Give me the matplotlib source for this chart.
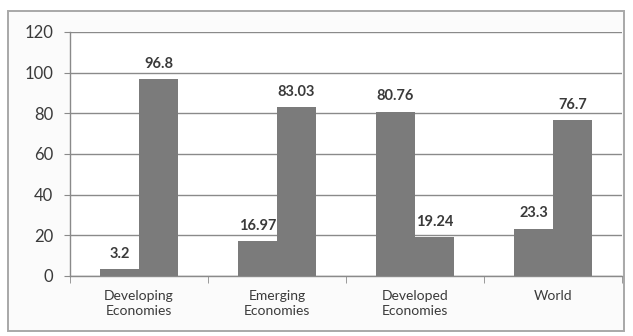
import numpy as np
import matplotlib.pyplot as plt
from matplotlib.patches import Rectangle

plt.rcParams["font.family"] = ["Lato", "DejaVu Sans"]

# ── Data ──────────────────────────────────────────────────────────────────────
categories = ["Developing\nEconomies", "Emerging\nEconomies",
              "Developed\nEconomies", "World"]
series_a = [3.2, 16.97, 80.76, 23.3]
series_b = [96.8, 83.03, 19.24, 76.7]
y_ticks = [0, 20, 40, 60, 80, 100, 120]

BAR_COLOR = "#7b7b7b"
GRID_COLOR = "#8a8a8a"
TEXT_COLOR = "#3a3a3a"

fig = plt.figure(figsize=(6.33, 3.36), dpi=100)
fig.patch.set_facecolor("white")

# chart frame
fig.patches.append(Rectangle((8 / 633, 5 / 336), 616 / 633, 320 / 336,
                             transform=fig.transFigure, facecolor="#fbfbfb",
                             edgecolor="#a8a8a8", linewidth=1.4, zorder=-1))

ax = fig.add_axes([70 / 633, 60 / 336, 552 / 633, 244 / 336])
ax.set_zorder(2)
ax.set_facecolor("white")

x = np.arange(len(categories))
w = 0.283
bars_a = ax.bar(x - w / 2, series_a, width=w, color=BAR_COLOR, zorder=3)
bars_b = ax.bar(x + w / 2, series_b, width=w, color=BAR_COLOR, zorder=3)

for bars, vals in ((bars_a, series_a), (bars_b, series_b)):
    for bar, v in zip(bars, vals):
        ax.annotate(f"{v:g}", (bar.get_x() + bar.get_width() / 2, v),
                    xytext=(0, 6), textcoords="offset points",
                    ha="center", va="bottom", fontsize=10.5, color=TEXT_COLOR,
                    fontweight="bold", zorder=4)

ax.set_xlim(-0.5, len(categories) - 0.5)
ax.set_ylim(0, 120)
ax.set_yticks(y_ticks)
ax.tick_params(axis="y", length=4, color=GRID_COLOR, labelsize=12,
               labelcolor=TEXT_COLOR, pad=8)
ax.yaxis.grid(True, color=GRID_COLOR, linewidth=1.0, zorder=0)
ax.set_axisbelow(True)

# category labels centred, tick marks on the category boundaries
ax.set_xticks(x)
ax.set_xticklabels(categories, fontsize=10, color=TEXT_COLOR, linespacing=1.35)
ax.tick_params(axis="x", length=0, pad=10)
ax.set_xticks(np.arange(len(categories) + 1) - 0.5, minor=True)
ax.tick_params(axis="x", which="minor", length=5, color=GRID_COLOR)

for side in ("top", "right"):
    ax.spines[side].set_visible(False)
for side in ("left", "bottom"):
    ax.spines[side].set_color(GRID_COLOR)
    ax.spines[side].set_linewidth(1.0)

fig.savefig("out.png", dpi=100)
